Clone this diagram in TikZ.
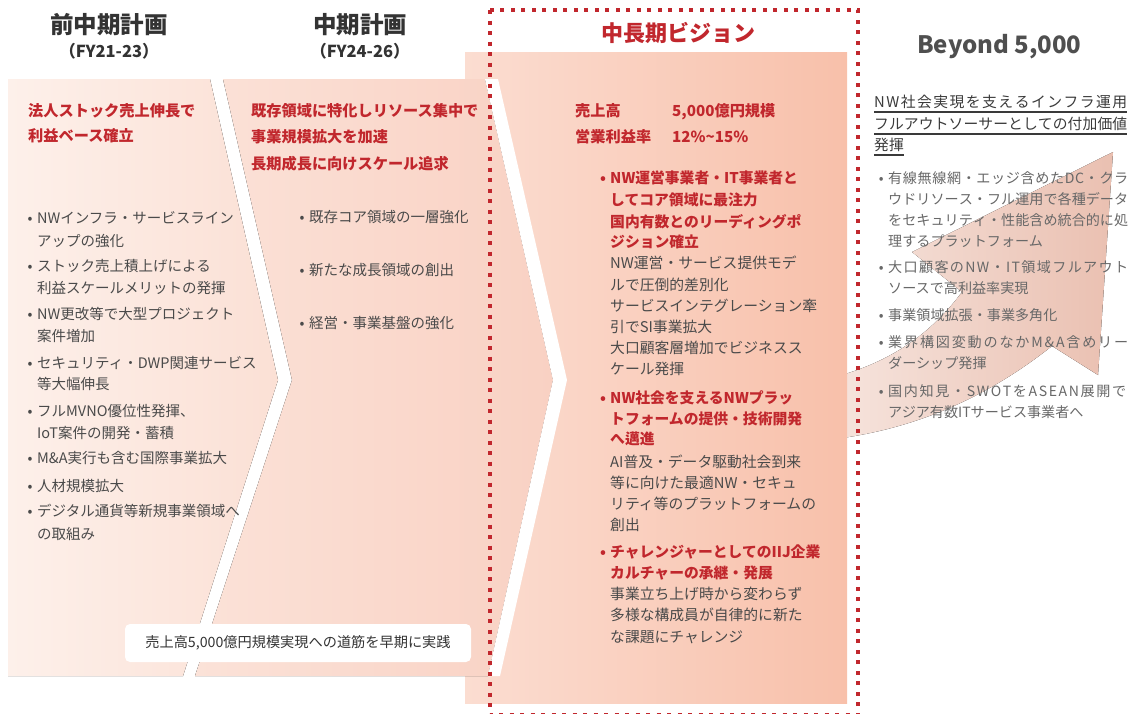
\documentclass[tikz,border=0pt]{standalone}
\usepackage{fontspec}
\setmainfont{Noto Sans CJK JP}
\definecolor{vred}{HTML}{C1272D}
\definecolor{tdark}{HTML}{333333}
\definecolor{bodyc}{HTML}{4A4A4A}
\definecolor{bgray}{HTML}{686868}
\definecolor{hgray}{HTML}{3A3A3A}
\definecolor{byc}{HTML}{4F4F4F}
\definecolor{p1L}{HTML}{FDF0EA}
\definecolor{p1R}{HTML}{FBE0D5}
\definecolor{p2L}{HTML}{FBE2D8}
\definecolor{p2R}{HTML}{F9D1C3}
\definecolor{visL}{HTML}{FBDDD1}
\definecolor{visR}{HTML}{F8C0AA}
\definecolor{arL}{HTML}{F6E4DD}
\definecolor{arR}{HTML}{EAC0B1}
\ExplSyntaxOn
\cs_new:Npn \SpreadIt #1 { \tl_map_inline:nn {#1} { ##1 \hskip 0pt plus 1fil } \unskip }
\ExplSyntaxOff
\newcommand\Just[2]{\makebox[#1][s]{\SpreadIt{#2}}}
\newcounter{ln}
\newcommand\T[4][body]{\stepcounter{ln}\node[#1] (t\arabic{ln}) at (#2,#3) {#4};}
\newcommand\bul{\llap{\makebox[14pt][c]{•}}}
\begin{document}
\begin{tikzpicture}[x=1pt,y=-1pt,
  body/.style={anchor=base west,inner sep=0pt,text=bodyc,font=\fontsize{14.5}{17}\selectfont},
  vbody/.style={anchor=base west,inner sep=0pt,text=bodyc,font=\fontsize{14.8}{17}\selectfont},
  redb/.style={anchor=base west,inner sep=0pt,text=vred,font=\bfseries\fontsize{15.2}{18}\selectfont},
  vredb/.style={anchor=base west,inner sep=0pt,text=vred,font=\bfseries\fontsize{14.8}{18}\selectfont},
  bbody/.style={anchor=base west,inner sep=0pt,text=bgray,font=\fontsize{14.1}{17}\selectfont},
  bhead/.style={anchor=base west,inner sep=0pt,text=hgray,font=\fontsize{14.8}{18}\selectfont},
  title/.style={anchor=base,inner sep=0pt,text=tdark,font=\bfseries\fontsize{23.5}{28}\selectfont},
  subt/.style={anchor=base,inner sep=0pt,text=tdark,font=\bfseries\fontsize{16.5}{20}\selectfont},
  uline/.style={draw=hgray,line width=2.2pt},
  vdot/.style={draw=vred,line width=4pt,dash pattern=on 4pt off 6.5pt}
]
\useasboundingbox (0,0) rectangle (1129,713);
% growth arrow (behind vision panel)
\fill[left color=arL,right color=arR] (835,377) .. controls (890,362) and (930,335) .. (962,292) -- (912,252) -- (1113,152) -- (1098,375) -- (1052,346) .. controls (990,395) and (920,428) .. (835,439) -- cycle;
% vision panel
\fill[left color=visL,right color=visR] (465,52) rectangle (847,703);
% phase panels
\fill[left color=p1L,right color=p1R] (8,79) -- (210,79) -- (278,380) -- (183,676) -- (8,676) -- cycle;
\fill[left color=p2L,right color=p2R] (223,79) -- (485,79) -- (553,380) -- (488,676) -- (195,676) -- (292,380) -- cycle;
\fill[white] (485,79) -- (498,79) -- (567,380) -- (500,676) -- (488,676) -- (553,380) -- cycle;
% bottom message
\node[fill=white,rounded corners=5pt,minimum width=346pt,minimum height=38pt,inner sep=0pt,text=tdark,font=\fontsize{14.2}{17}\selectfont] (goal) at (298,643) {売上高5,000億円規模実現への道筋を早期に実践};
% dotted frame
\draw[vdot] (489.5,10) rectangle (858,714.5);
% titles
\node[title] (h1) at (109,33) {前中期計画};
\node[subt] (h1s) at (109,57) {（FY21-23）};
\node[title] (h2) at (360,33) {中期計画};
\node[subt] (h2s) at (360,57) {（FY24-26）};
\node[title,text=vred,font=\bfseries\fontsize{22}{26}\selectfont] (h3) at (678,41) {中長期ビジョン};
\node[anchor=base west,inner sep=0pt,text=byc,font=\bfseries\fontsize{24}{28}\selectfont] (h4) at (917,53) {Beyond 5,000};
% panel 1
\T[redb]{28}{116.5}{法人ストック売上伸長で}
\T[redb]{28}{141.5}{利益ベース確立}
\T{37}{223}{\bul NWインフラ・サービスライン}
\T{37}{246}{アップの強化}
\T{37}{271}{\bul ストック売上積上げによる}
\T{37}{293}{利益スケールメリットの発揮}
\T{37}{319}{\bul NW更改等で大型プロジェクト}
\T{37}{341}{案件増加}
\T{37}{368}{\bul セキュリティ・DWP関連サービス}
\T{37}{389}{等大幅伸長}
\T{37}{416}{\bul フルMVNO優位性発揮、}
\T{37}{438}{IoT案件の開発・蓄積}
\T{37}{463}{\bul M\&A実行も含む国際事業拡大}
\T{37}{491}{\bul 人材規模拡大}
\T{37}{516}{\bul デジタル通貨等新規事業領域へ}
\T{37}{539}{の取組み}
% panel 2
\T[redb]{251}{116.5}{既存領域に特化しリソース集中で}
\T[redb]{251}{142}{事業規模拡大を加速}
\T[redb]{251}{169}{長期成長に向けスケール追求}
\T{309}{222.5}{\bul 既存コア領域の一層強化}
\T{309}{275.5}{\bul 新たな成長領域の創出}
\T{309}{328.5}{\bul 経営・事業基盤の強化}
% vision
\T[redb]{575}{116.5}{売上高}
\T[redb]{672}{116.5}{5,000億円規模}
\T[redb]{575}{142.5}{営業利益率}
\T[redb]{672}{142.5}{12\%\textasciitilde 15\%}
\T[vredb]{610}{183.5}{\bul NW運営事業者・IT事業者と}
\T[vredb]{610}{205}{してコア領域に最注力}
\T[vredb]{610}{227}{国内有数とのリーディングポ}
\T[vredb]{610}{247.5}{ジション確立}
\T[vbody]{610}{268.5}{NW運営・サービス提供モデ}
\T[vbody]{610}{290}{ルで圧倒的差別化}
\T[vbody]{610}{311.5}{サービスインテグレーション牽}
\T[vbody]{610}{332.5}{引でSI事業拡大}
\T[vbody]{610}{353.5}{大口顧客層増加でビジネスス}
\T[vbody]{610}{374}{ケール発揮}
\T[vredb]{610}{403.5}{\bul NW社会を支えるNWプラッ}
\T[vredb]{610}{424}{トフォームの提供・技術開発}
\T[vredb]{610}{444.5}{へ邁進}
\T[vbody]{610}{467.5}{AI普及・データ駆動社会到来}
\T[vbody]{610}{488}{等に向けた最適NW・セキュ}
\T[vbody]{610}{509}{リティ等のプラットフォームの}
\T[vbody]{610}{530.5}{創出}
\T[vredb]{610}{557.5}{\bul チャレンジャーとしてのIIJ企業}
\T[vredb]{610}{578.5}{カルチャーの承継・発展}
\T[vbody]{610}{599}{事業立ち上げ時から変わらず}
\T[vbody]{610}{620.5}{多様な構成員が自律的に新た}
\T[vbody]{610}{642}{な課題にチャレンジ}
% beyond
\node[bhead] (bh1) at (874,107.5) {\Just{253pt}{NW社会実現を支えるインフラ運用}};
\node[bhead] (bh2) at (874,129.5) {\Just{253pt}{フルアウトソーサーとしての付加価値}};
\node[bhead] (bh3) at (874,150.5) {発揮};
\draw[uline] ([yshift=-4.5pt]bh1.base west) -- ([yshift=-4.5pt]bh1.base east);
\draw[uline] ([yshift=-4.5pt]bh2.base west) -- ([yshift=-4.5pt]bh2.base east);
\draw[uline] ([yshift=-4.5pt]bh3.base west) -- ([yshift=-4.5pt]bh3.base east);
\T[bbody]{888}{183.5}{\bul\Just{240pt}{有線無線網・エッジ含めたDC・クラ}}
\T[bbody]{888}{204.5}{\Just{240pt}{ウドリソース・フル運用で各種データ}}
\T[bbody]{888}{225.5}{\Just{240pt}{をセキュリティ・性能含め統合的に処}}
\T[bbody]{888}{246.5}{理するプラットフォーム}
\T[bbody]{888}{272.5}{\bul\Just{240pt}{大口顧客のNW・IT領域フルアウト}}
\T[bbody]{888}{293.5}{ソースで高利益率実現}
\T[bbody]{888}{320.5}{\bul 事業領域拡張・事業多角化}
\T[bbody]{888}{347.5}{\bul\Just{240pt}{業界構図変動のなかM\&A含めリー}}
\T[bbody]{888}{368.5}{ダーシップ発揮}
\T[bbody]{888}{396.5}{\bul\Just{238pt}{国内知見・SWOTをASEAN展開で}}
\T[bbody]{888}{417.5}{アジア有数ITサービス事業者へ}
\end{tikzpicture}
\end{document}
